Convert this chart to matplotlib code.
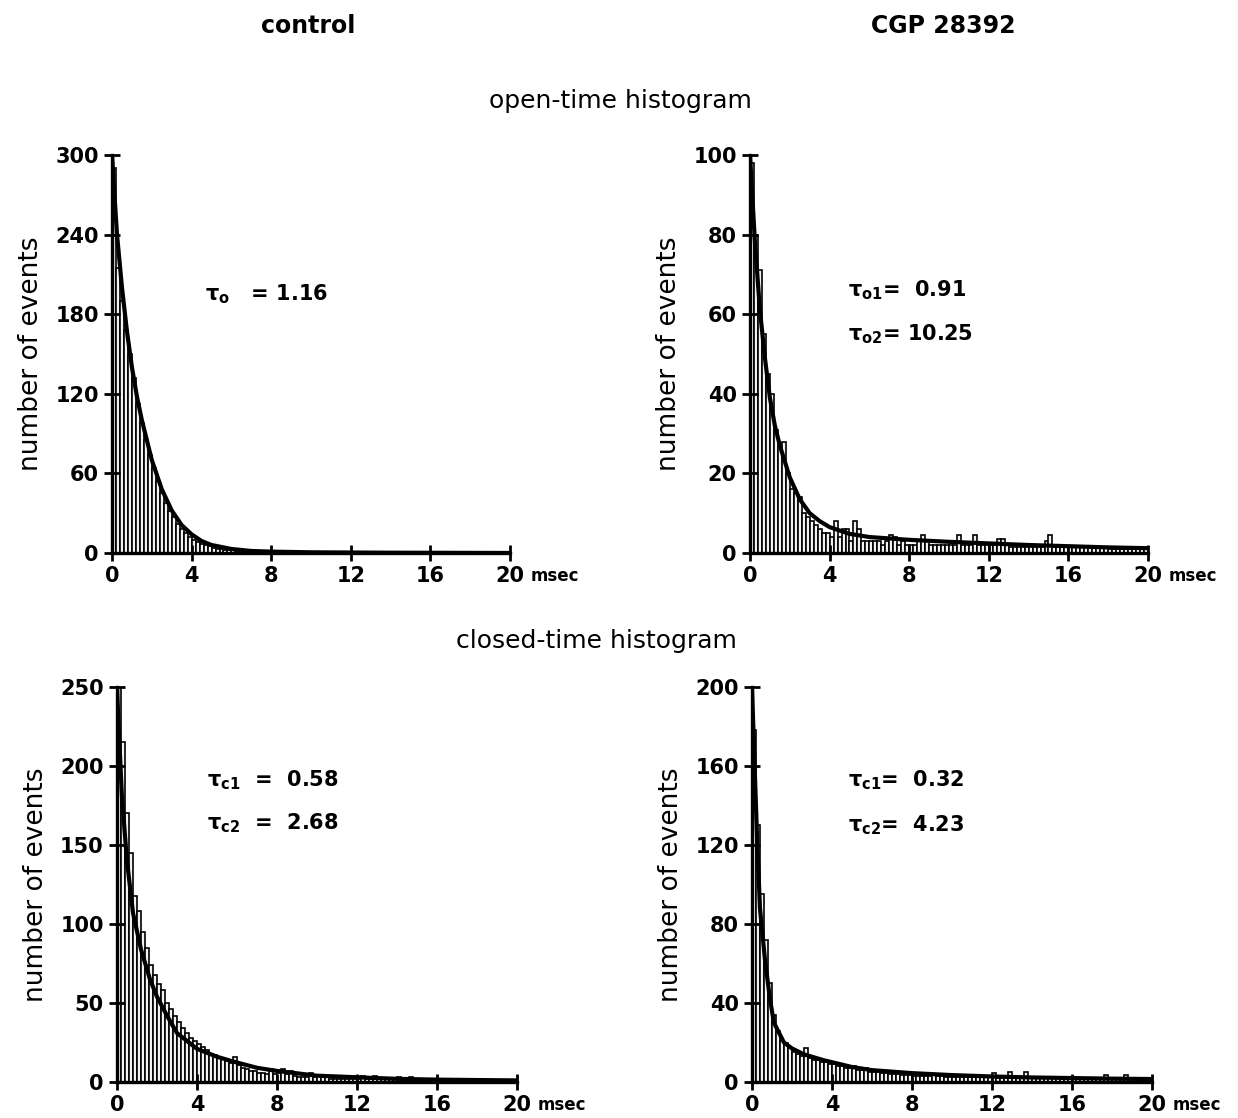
import numpy as np
import matplotlib.pyplot as plt

# bin width 0.2 ms, bins start at 0
bin_w = 0.2

# open-time, control (counts per bin)
open_ctrl = [290, 215, 190, 168, 150, 132, 112, 98, 85, 74,
             64, 54, 45, 38, 32, 27, 22, 18, 15, 12,
             10, 8, 7, 6, 5, 4, 3, 3, 2, 2,
             2, 1, 1, 1, 1, 1, 1, 1, 0.5, 0.5,
             0.5, 0.5, 0.5, 0.5, 0.5, 0.5, 0.5, 0.5, 0.5, 0.5]
open_ctrl_fit_t = [0, 0.1, 0.25, 0.5, 0.75, 1, 1.25, 1.5, 2, 2.5, 3, 3.5, 4, 4.5, 5, 6, 7, 8, 10, 14, 20]
open_ctrl_fit_y = [300, 275, 240, 200, 167, 140, 118, 100, 70, 48, 32, 21, 14, 9, 6, 3, 1.5, 1, 0.5, 0.2, 0]

# open-time, CGP 28392
open_cgp = [98, 80, 71, 55, 45, 40, 31, 27, 28, 20,
            16, 15, 14, 10, 9, 8, 7, 6, 5, 5,
            4, 8, 4, 6, 6, 3, 8, 6, 3, 3,
            3, 3, 3, 2, 3, 4.5, 4, 2, 3, 2,
            2, 2, 3, 4.5, 3, 2, 2, 2, 2, 2,
            2, 2, 4.5, 2, 2, 2, 4.5, 2, 2, 2,
            2, 2, 3.5, 3.5, 2, 1.5, 1.5, 1.5, 1.5, 1.5,
            1.5, 1.5, 1.5, 1.5, 3, 4.5, 1.5, 1.5, 1.5, 1.5,
            1.5, 1.5, 1.5, 1.5, 1.5, 1.5, 1.5, 1.5, 1.5, 1.5,
            1, 1, 1, 1, 1, 1, 1, 1, 1, 1]
open_cgp_fit_t = [0, 0.25, 0.5, 0.75, 1, 1.25, 1.5, 2, 2.5, 3, 3.5, 4, 5, 6, 8, 10, 12, 14, 16, 18, 20]
open_cgp_fit_y = [100, 78, 61, 49, 39, 32, 27, 19, 13.5, 10, 8, 6.5, 4.8, 4, 3.3, 2.8, 2.4, 2, 1.7, 1.4, 1.2]

# closed-time, control
closed_ctrl = [250, 215, 170, 145, 118, 108, 95, 85, 74, 68,
               62, 58, 50, 46, 42, 38, 34, 31, 28, 26,
               24, 22, 20, 18, 17, 16, 15, 13, 12, 16,
               11, 9, 8, 7, 7, 6, 6, 5, 8, 5,
               6, 8, 5, 7, 4, 3, 3, 3, 6, 3,
               4.5, 3, 3, 2, 2, 2, 2, 2, 2, 2,
               2, 3.5, 2, 2, 3.5, 2, 2, 2, 2, 2,
               3, 2, 2, 3, 2, 2, 2, 2, 2, 2,
               1.5, 1.5, 1.5, 1.5, 1.5, 1.5, 1.5, 1.5, 1.5, 1.5,
               1.5, 1.5, 1.5, 1.5, 1.5, 1.5, 1.5, 1.5, 1.5, 1.5]
closed_ctrl_fit_t = [0, 0.1, 0.25, 0.5, 0.8, 1.2, 1.65, 2, 2.5, 3, 4, 5, 5.8, 7, 8, 10, 12, 14, 16, 20]
closed_ctrl_fit_y = [250, 220, 180, 140, 107, 84, 65, 54, 42, 31, 21, 16, 13, 9, 7, 4, 3, 2, 1.5, 1]

# closed-time, CGP 28392
closed_cgp = [178, 130, 95, 72, 50, 34, 26, 21, 20, 17,
              15, 14, 13, 17, 12, 11, 11, 10, 10, 9,
              9, 8, 8, 7, 7, 8, 6, 6, 7, 5,
              5, 5, 4.5, 4.5, 4, 4, 4, 3.5, 3.5, 3.5,
              3, 3, 3, 3, 3, 4, 3, 3, 2.5, 2.5,
              2.5, 2.5, 2.5, 2.5, 2.5, 2.5, 2.5, 2.5, 2.5, 2.5,
              4.5, 2, 2, 2, 5, 2, 2, 2, 5, 2,
              2, 2, 2, 2, 2, 2, 2, 2.7, 2, 2,
              1.5, 1.5, 1.5, 1.5, 1.5, 1.5, 1.5, 1.5, 3.5, 1.5,
              1.5, 1.5, 1.5, 3.5, 1.5, 1.5, 1.5, 1.5, 1.5, 1.5]
closed_cgp_fit_t = [0, 0.1, 0.25, 0.4, 0.65, 0.9, 1.1, 1.6, 2, 2.6, 3.6, 5, 6, 8, 10, 12, 14, 16, 18, 20]
closed_cgp_fit_y = [200, 170, 125, 88, 62, 42, 30, 20, 17, 14, 11, 7.6, 6, 4.5, 3.5, 2.8, 2.3, 2, 1.7, 1.5]

panels = [
    dict(rect=[0.0905, 0.5054, 0.3215, 0.3560], counts=open_ctrl, ft=open_ctrl_fit_t, fy=open_ctrl_fit_y,
         ymax=300, yticks=[0, 60, 120, 180, 240, 300],
         taus=[(0.234, 0.65, r'$\tau_{o}$' + '   = 1.16')]),
    dict(rect=[0.6058, 0.5054, 0.3215, 0.3560], counts=open_cgp, ft=open_cgp_fit_t, fy=open_cgp_fit_y,
         ymax=100, yticks=[0, 20, 40, 60, 80, 100],
         taus=[(0.246, 0.66, r'$\tau_{o1}$' + '=  0.91'), (0.246, 0.55, r'$\tau_{o2}$' + '= 10.25')]),
    dict(rect=[0.0945, 0.0322, 0.3230, 0.3533], counts=closed_ctrl, ft=closed_ctrl_fit_t, fy=closed_ctrl_fit_y,
         ymax=250, yticks=[0, 50, 100, 150, 200, 250],
         taus=[(0.225, 0.765, r'$\tau_{c1}$' + '  =  0.58'), (0.225, 0.655, r'$\tau_{c2}$' + '  =  2.68')]),
    dict(rect=[0.6074, 0.0322, 0.3230, 0.3533], counts=closed_cgp, ft=closed_cgp_fit_t, fy=closed_cgp_fit_y,
         ymax=200, yticks=[0, 40, 80, 120, 160, 200],
         taus=[(0.24, 0.765, r'$\tau_{c1}$' + '=  0.32'), (0.24, 0.65, r'$\tau_{c2}$' + '=  4.23')]),
]

plt.rcParams['mathtext.fontset'] = 'dejavusans'
plt.rcParams['mathtext.default'] = 'bf'

fig = plt.figure(figsize=(12.38, 11.18), dpi=100)

for p in panels:
    ax = fig.add_axes(p['rect'])
    counts = np.array(p['counts'], dtype=float)
    edges = np.arange(len(counts)) * bin_w
    ax.bar(edges, counts, width=bin_w, align='edge', facecolor='#f2f2f2',
           edgecolor='black', linewidth=1.2)
    ax.plot(p['ft'], p['fy'], color='black', lw=3, solid_capstyle='round')

    ax.set_xlim(0, 20)
    ax.set_ylim(0, p['ymax'])
    ax.set_xticks([0, 4, 8, 12, 16, 20])
    ax.set_yticks(p['yticks'])
    for s in ['top', 'right']:
        ax.spines[s].set_visible(False)
    for s in ['left', 'bottom']:
        ax.spines[s].set_linewidth(2.4)
    ax.tick_params(direction='inout', length=11, width=2, labelsize=15, pad=4)
    for lab in ax.get_xticklabels() + ax.get_yticklabels():
        lab.set_fontweight('bold')
    ax.annotate('msec', xy=(1.0, 0), xycoords='axes fraction', xytext=(15, -10),
                textcoords='offset points', fontsize=12, fontweight='bold', ha='left', va='top')
    ax.set_ylabel('number of events', fontsize=19, labelpad=8)
    for (tx, ty, s) in p['taus']:
        ax.text(tx, ty, s, transform=ax.transAxes, fontsize=15, fontweight='bold',
                ha='left', va='center')

fig.text(0.249, 0.977, 'control', fontsize=17, fontweight='bold', ha='center', va='center')
fig.text(0.762, 0.977, 'CGP 28392', fontsize=17, fontweight='bold', ha='center', va='center')
fig.text(0.501, 0.910, 'open-time histogram', fontsize=18, ha='center', va='center')
fig.text(0.482, 0.427, 'closed-time histogram', fontsize=18, ha='center', va='center')

fig.savefig('out.png', dpi=100, facecolor='white')
